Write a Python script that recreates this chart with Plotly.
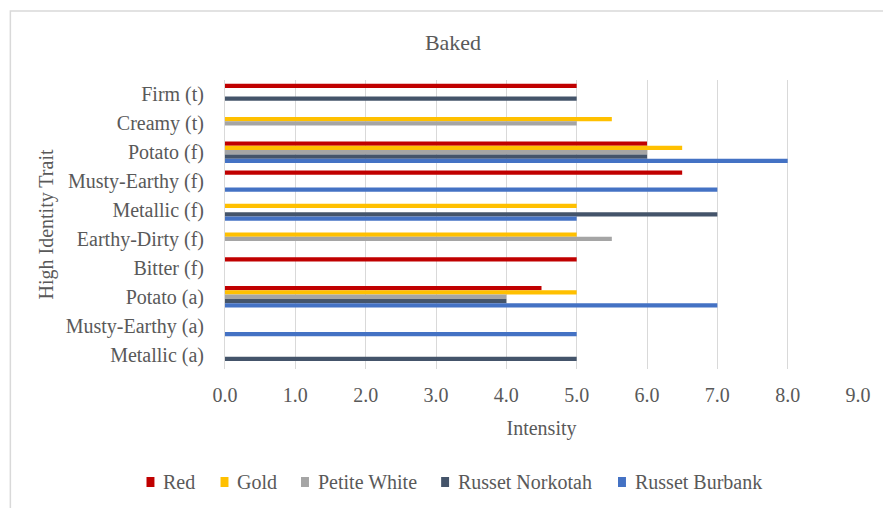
import plotly.graph_objects as go

# Sensory traits, listed top to bottom
traits = ["Firm (t)", "Creamy (t)", "Potato (f)", "Musty-Earthy (f)", "Metallic (f)",
          "Earthy-Dirty (f)", "Bitter (f)", "Potato (a)", "Musty-Earthy (a)", "Metallic (a)"]

# Intensity per variety (None = trait not high-identity for that variety)
red = [5.0, None, 6.0, 6.5, None, None, 5.0, 4.5, None, None]
gold = [None, 5.5, 6.5, None, 5.0, 5.0, None, 5.0, None, None]
petite_white = [None, 5.0, 6.0, None, None, 5.5, None, 4.0, None, None]
russet_norkotah = [5.0, None, 6.0, None, 7.0, None, None, 4.0, None, 5.0]
russet_burbank = [None, None, 8.0, 7.0, 5.0, None, None, 7.0, 5.0, None]

series = [
    ("Red", red, "#C00000"),
    ("Gold", gold, "#FFC000"),
    ("Petite White", petite_white, "#A5A5A5"),
    ("Russet Norkotah", russet_norkotah, "#44546A"),
    ("Russet Burbank", russet_burbank, "#4472C4"),
]

FONT = "Liberation Serif"
GREY = "#595959"
SIZE = 20

# plot-area geometry in pixels
W, H = 883, 508
ML, MR, MT, MB = 225, 21, 80, 139
PW, PH = W - ML - MR, H - MT - MB


def px_x(x):
    return (x - ML) / PW


def px_y(y):
    return (H - MB - y) / PH


fig = go.Figure()
for name, vals, color in series:
    fig.add_trace(go.Bar(
        y=traits, x=vals, name=name, orientation="h", showlegend=False,
        marker=dict(color=color, line=dict(width=0)),
    ))

# legend row along the bottom: swatch + label for each series
legend_left = [146, 220.5, 301.5, 442.5, 620.5]
legend_y = 482
shapes = [dict(type="rect", xref="paper", yref="paper",
               x0=px_x(9), x1=px_x(895), y0=px_y(520), y1=px_y(11),
               line=dict(color="#D9D9D9", width=1.5), fillcolor="rgba(0,0,0,0)",
               layer="below")]
annotations = []
for (name, _, color), lx in zip(series, legend_left):
    shapes.append(dict(type="rect", xref="paper", yref="paper",
                       x0=px_x(lx), x1=px_x(lx + 8),
                       y0=px_y(legend_y + 5), y1=px_y(legend_y - 5),
                       fillcolor=color, line=dict(width=0)))
    annotations.append(dict(text=name, xref="paper", yref="paper",
                            x=px_x(lx + 15), y=px_y(legend_y),
                            xanchor="left", yanchor="middle", showarrow=False,
                            font=dict(family=FONT, size=SIZE, color=GREY)))

fig.update_layout(
    width=W, height=H,
    barmode="group", bargap=0.26, bargroupgap=0,
    plot_bgcolor="white", paper_bgcolor="white",
    margin=dict(l=ML, r=MR, t=MT, b=MB),
    font=dict(family=FONT, size=SIZE, color=GREY),
    showlegend=False,
    title=dict(text="Baked", x=0.513, xref="container", y=1 - 42 / H,
               yref="container", xanchor="center", yanchor="middle",
               font=dict(family=FONT, size=22, color=GREY)),
    xaxis=dict(range=[0, 9], dtick=1, tickformat=".1f",
               showgrid=True, gridcolor="#D9D9D9", gridwidth=1,
               zeroline=False, showline=False, ticks="",
               tickfont=dict(family=FONT, size=SIZE, color=GREY),
               ticklabelstandoff=12,
               title=dict(text="Intensity", standoff=15,
                          font=dict(family=FONT, size=SIZE, color=GREY))),
    yaxis=dict(categoryorder="array", categoryarray=traits, autorange="reversed",
               showgrid=False, showline=True, linecolor="#D9D9D9", linewidth=1,
               ticks="", ticklabelstandoff=16,
               tickfont=dict(family=FONT, size=SIZE, color=GREY),
               title=dict(text="High Identity Trait", standoff=6,
                          font=dict(family=FONT, size=SIZE, color=GREY))),
    shapes=shapes,
    annotations=annotations,
)

fig.write_html("out.html")
